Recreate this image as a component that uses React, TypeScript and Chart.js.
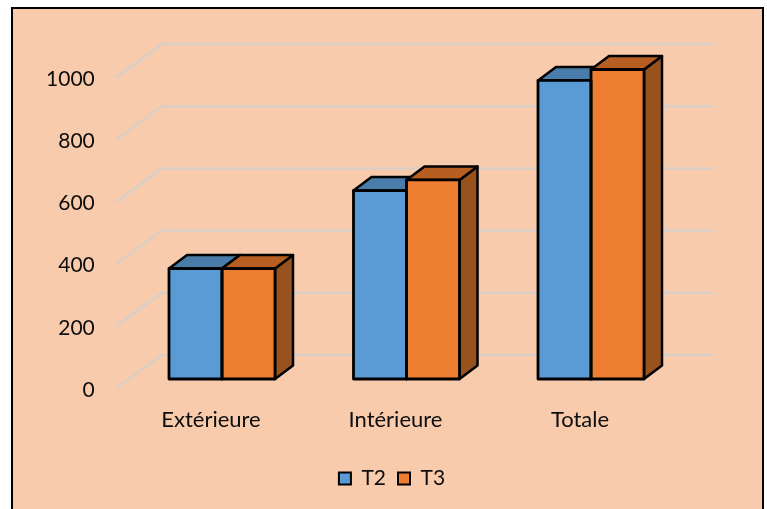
import React, { useEffect, useRef } from "react";
import { Chart, registerables } from "chart.js";

Chart.register(...registerables);

const categories = ["Extérieure", "Intérieure", "Totale"];
const t2Values = [355, 606, 960];
const t3Values = [355, 640, 995];
const seriesNames = ["T2", "T3"];
const frontColors = ["#5B9BD5", "#ED7D31"];
const topColors = ["#4A7CA9", "#B75F22"];
const sideColors = ["#44708F", "#97521E"];

const FONT = "Lato, 'Noto Sans', sans-serif";
const DX = 18;
const DY = -13.5;

const poly = (ctx: CanvasRenderingContext2D, pts: number[][], fill: string) => {
  ctx.beginPath();
  pts.forEach((p, i) => (i ? ctx.lineTo(p[0], p[1]) : ctx.moveTo(p[0], p[1])));
  ctx.closePath();
  ctx.fillStyle = fill;
  ctx.fill();
  ctx.stroke();
};

const scene = {
  id: "scene",
  afterLayout(chart: any) {
    // centre the legend under the frame rather than under the plot box
    const shift = 392 - (chart.legend.left + chart.legend.right) / 2;
    chart.legend.left += shift;
    chart.legend.right += shift;
  },
  beforeDraw(chart: any) {
    const { ctx, width, height } = chart;
    ctx.save();
    ctx.fillStyle = "#ffffff";
    ctx.fillRect(0, 0, width, height);
    ctx.fillStyle = "#F8CBAD";
    ctx.fillRect(12, 8, 751, height - 8);
    ctx.strokeStyle = "#000000";
    ctx.lineWidth = 2;
    ctx.beginPath();
    ctx.moveTo(12, height);
    ctx.lineTo(12, 8);
    ctx.lineTo(763, 8);
    ctx.lineTo(763, height);
    ctx.stroke();
    ctx.restore();
  },
  beforeDatasetsDraw(chart: any) {
    const { ctx, scales } = chart;
    ctx.save();
    ctx.strokeStyle = "#D9CFC7";
    ctx.lineWidth = 2.5;
    scales.y.ticks.forEach((t: any) => {
      const y = scales.y.getPixelForValue(t.value) + 9.5;
      ctx.beginPath();
      ctx.moveTo(116, y);
      ctx.lineTo(162, y - 33.5);
      ctx.lineTo(714, y - 33.5);
      ctx.stroke();
    });
    ctx.strokeStyle = "#000000";
    ctx.lineJoin = "round";
    ctx.lineWidth = 2.5;
    chart.data.datasets.forEach((_: any, d: number) => {
      chart.getDatasetMeta(d).data.forEach((bar: any) => {
        const l = bar.x - bar.width / 2;
        const r = bar.x + bar.width / 2;
        const t = bar.y;
        const b = bar.base;
        poly(ctx, [[r, t], [r + DX, t + DY], [r + DX, b + DY], [r, b]], sideColors[d]);
        poly(ctx, [[l, t], [l + DX, t + DY], [r + DX, t + DY], [r, t]], topColors[d]);
      });
    });
    ctx.restore();
  },
  afterDatasetsDraw(chart: any) {
    const { ctx } = chart;
    ctx.save();
    ctx.strokeStyle = "#000000";
    ctx.lineJoin = "round";
    ctx.lineWidth = 2.8;
    chart.data.datasets.forEach((_: any, d: number) => {
      chart.getDatasetMeta(d).data.forEach((bar: any) => {
        ctx.strokeRect(bar.x - bar.width / 2, bar.y, bar.width, bar.base - bar.y);
      });
    });
    ctx.restore();
  },
};

export default function App() {
  const ref = useRef<HTMLCanvasElement>(null);
  useEffect(() => {
    const chart = new Chart(ref.current as HTMLCanvasElement, {
      type: "bar",
      data: {
        labels: categories,
        datasets: [
          { label: seriesNames[0], data: t2Values, backgroundColor: frontColors[0], borderWidth: 0 },
          { label: seriesNames[1], data: t3Values, backgroundColor: frontColors[1], borderWidth: 0 },
        ],
      },
      options: {
        responsive: false,
        animation: false,
        events: [],
        datasets: { bar: { categoryPercentage: 106 / 184.5, barPercentage: 1 } },
        layout: {
          autoPadding: false,
          padding: { left: 20, right: 83.75, top: 68, bottom: 10 },
        },
        plugins: {
          title: { display: false },
          tooltip: { enabled: false },
          legend: {
            position: "bottom",
            labels: {
              color: "#0d0d0d",
              font: { family: FONT, size: 21 },
              boxWidth: 12,
              boxHeight: 12,
              padding: 12,
              generateLabels: (c: any) =>
                c.data.datasets.map((ds: any, i: number) => ({
                  text: ds.label,
                  fillStyle: ds.backgroundColor,
                  strokeStyle: "#000000",
                  lineWidth: 2,
                  fontColor: "#0d0d0d",
                  datasetIndex: i,
                })),
            },
          },
        },
        scales: {
          x: {
            border: { display: false },
            grid: { display: false, drawTicks: false },
            afterFit: (s: any) => {
              s.height = 77;
            },
            ticks: {
              color: "#0d0d0d",
              font: { family: FONT, size: 22 },
              padding: 28,
              maxRotation: 0,
              labelOffset: -11,
            },
          },
          y: {
            min: 0,
            max: 1000,
            border: { display: false },
            grid: { display: false, drawTicks: false },
            afterFit: (s: any) => {
              s.width = 109.75;
            },
            ticks: {
              stepSize: 200,
              color: "#0d0d0d",
              font: { family: FONT, size: 21 },
              padding: 35,
              labelOffset: 11,
              callback: (v: any) => String(v),
            },
          },
        },
      },
      plugins: [scene],
    } as any);
    return () => chart.destroy();
  }, []);
  return (
    <div style={{ position: "absolute", left: 0, top: 0, width: 767, height: 509 }}>
      <canvas ref={ref} width={767} height={509} style={{ display: "block" }} />
    </div>
  );
}
